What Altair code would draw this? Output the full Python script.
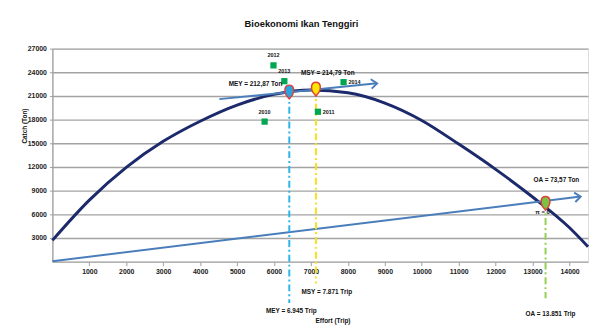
import altair as alt
import pandas as pd

FONT = "Liberation Sans, Arial, sans-serif"

# Yield-effort curve
effort_curve = [0, 1000, 2000, 3000, 4000, 5000, 6000, 7000, 8000, 9000,
                10000, 11000, 12000, 13000, 14000, 14500]
catch_curve = [2700, 7800, 11950, 15250, 17800, 19850, 21200, 21750, 21400,
               20100, 17900, 14900, 11700, 8200, 4300, 1900]

# Cost line and MEY tangent arrow
cost_effort = [0, 14300]
cost_catch = [60, 8250]
mey_arrow_effort = [4520, 8790]
mey_arrow_catch = [20600, 22600]

# Actual yearly observations
years = ["2010", "2011", "2012", "2013", "2014"]
year_effort = [5745, 7188, 5985, 6279, 7882]
year_catch = [17750, 19000, 24875, 22875, 22750]

# Reference points
ref_names = ["MEY", "MSY", "OA"]
ref_effort = [6413, 7134, 13350]
ref_catch = [21500, 21875, 7400]
ref_bottom = [-5250, -2750, -4625]
ref_catch_label = ["MEY = 212,87 Ton", "MSY = 214,79 Ton", "OA = 73,57 Ton"]
ref_effort_label = ["MEY = 6.945 Trip", "MSY = 7.871 Trip", "OA = 13.851 Trip"]
ref_line_colors = ["#2db4ea", "#f5e21a", "#92d050"]
ref_fill_colors = ["#2aa3e0", "#ffe600", "#7cc142"]

x_ticks = list(range(1000, 14001, 1000))
y_ticks = list(range(3000, 27001, 3000))

curve_df = pd.DataFrame({"effort": effort_curve, "catch": catch_curve})
cost_df = pd.DataFrame({"effort": cost_effort, "catch": cost_catch})
mey_df = pd.DataFrame({"effort": mey_arrow_effort, "catch": mey_arrow_catch})
year_df = pd.DataFrame({"year": years, "effort": year_effort, "catch": year_catch})
ref_df = pd.DataFrame({"name": ref_names, "effort": ref_effort, "catch": ref_catch,
                       "bottom": ref_bottom, "clabel": ref_catch_label,
                       "elabel": ref_effort_label})
arrow_df = pd.DataFrame({"effort": [cost_effort[-1], mey_arrow_effort[-1]],
                         "catch": [cost_catch[-1], mey_arrow_catch[-1]],
                         "ang": [353, 354]})

xscale = alt.Scale(domain=[0, 14500], nice=False, zero=False)
yscale = alt.Scale(domain=[0, 27000], nice=False, zero=False)

x_axis = alt.Axis(values=x_ticks, format="d", grid=False, domainColor="#a0a0a0",
                  domainWidth=1.3, tickColor="#a0a0a0", tickSize=4, labelFontSize=7,
                  labelFont=FONT, labelFontWeight="bold", labelColor="#222222",
                  labelPadding=2, title="Effort (Trip)", titleFont=FONT,
                  titleFontSize=6.5, titleFontWeight="bold", titleColor="#111111",
                  titleX=284, titleY=60, titleBaseline="middle")
y_axis = alt.Axis(values=y_ticks, format="d", grid=True, gridColor="#a3a3a3",
                  gridWidth=1.4, domainColor="#a0a0a0", domainWidth=1.3,
                  tickColor="#a0a0a0", tickSize=3, labelFontSize=7, labelFont=FONT,
                  labelFontWeight="bold", labelColor="#222222", labelPadding=3,
                  title="Catch (Ton)", titleFont=FONT, titleFontSize=6.5,
                  titleFontWeight="bold", titleColor="#111111", titleX=-28, titleY=78,
                  titleAngle=270, titleAlign="center", titleBaseline="middle")


def X():
    return alt.X("effort:Q", scale=xscale, axis=x_axis)


def Y(field="catch"):
    return alt.Y(f"{field}:Q", scale=yscale, axis=y_axis)


curve = alt.Chart(curve_df).mark_line(color="#1c2a6b", strokeWidth=3,
                                      interpolate="monotone").encode(x=X(), y=Y())

cost = alt.Chart(cost_df).mark_line(color="#4a7ebb", strokeWidth=2).encode(x=X(), y=Y())
mey_line = alt.Chart(mey_df).mark_line(color="#4a7ebb", strokeWidth=2).encode(x=X(), y=Y())
arrows = alt.Chart(arrow_df).mark_point(shape="M-1,-0.8L0,0L-1,0.8", filled=False,
                                        size=144, color="#4a7ebb", strokeWidth=2,
                                        opacity=1).encode(
    x=X(), y=Y(), angle=alt.Angle("ang:Q", scale=None))

rules = alt.Chart(ref_df).mark_rule(strokeWidth=2, strokeDash=[7, 3, 2, 3]).encode(
    x=X(), y=Y(), y2=alt.Y2("bottom:Q"),
    color=alt.Color("name:N", scale=alt.Scale(domain=ref_names, range=ref_line_colors),
                    legend=None))

PIN = "M0,-1C0.72,-1 0.78,-0.1 0.45,0.45L0,1L-0.45,0.45C-0.78,-0.1 -0.72,-1 0,-1Z"
pins = alt.Chart(ref_df).mark_point(shape=PIN, size=196, filled=True, opacity=1,
                                    stroke="#e0403a", strokeWidth=1.5).encode(
    x=X(), y=Y(),
    fill=alt.Fill("name:N", scale=alt.Scale(domain=ref_names, range=ref_fill_colors),
                  legend=None))

squares = alt.Chart(year_df).mark_square(size=40, color="#00a651", opacity=1).encode(
    x=X(), y=Y())

txt = dict(font=FONT, fontWeight="bold", color="#111111")
yr_above = alt.Chart(year_df).transform_filter(
    alt.FieldOneOfPredicate(field="year", oneOf=["2010", "2012", "2013"])
).mark_text(fontSize=5.5, dy=-10, align="center", **txt).encode(x=X(), y=Y(), text="year:N")
yr_right = alt.Chart(year_df).transform_filter(
    alt.FieldOneOfPredicate(field="year", oneOf=["2011", "2014"])
).mark_text(fontSize=5.5, dx=5, align="left", **txt).encode(x=X(), y=Y(), text="year:N")


def ref_text(name, field, y, **kw):
    return alt.Chart(ref_df).transform_filter(alt.datum.name == name).mark_text(
        fontSize=6.5, **txt, **kw).encode(x=X(), y=y, text=f"{field}:N")


mey_c = ref_text("MEY", "clabel", Y(), align="right", dx=-7, dy=-8)
msy_c = ref_text("MSY", "clabel", Y(), align="center", dx=12, dy=-16)
oa_c = ref_text("OA", "clabel", Y(), align="center", dx=11, dy=-24)
pi_t = alt.Chart(ref_df).transform_filter(alt.datum.name == "OA").mark_text(
    fontSize=6, dx=-3, dy=9, text="π = 0", **txt).encode(x=X(), y=Y())

mey_e = ref_text("MEY", "elabel", Y("bottom"), align="center", dx=2, dy=8)
msy_e = ref_text("MSY", "elabel", Y("bottom"), align="center", dx=11, dy=9)
oa_e = ref_text("OA", "elabel", Y("bottom"), align="center", dx=5, dy=16)

chart = alt.layer(
    curve, cost, mey_line, arrows, rules, squares, pins,
    yr_above, yr_right, mey_c, msy_c, oa_c, pi_t, mey_e, msy_e, oa_e
).properties(
    width=543, height=216,
    title=alt.TitleParams("Bioekonomi Ikan Tenggiri", font=FONT, fontSize=9.5,
                          fontWeight="bold", color="#111111", anchor="middle",
                          dx=-19, offset=16),
    autosize=alt.AutoSizeParams(type="none"),
    padding={"left": 45, "top": 39, "right": 2, "bottom": 62},
).configure_view(stroke=None).configure(background="white")

chart.save("out.html", embed_options={"renderer": "svg", "actions": False})
